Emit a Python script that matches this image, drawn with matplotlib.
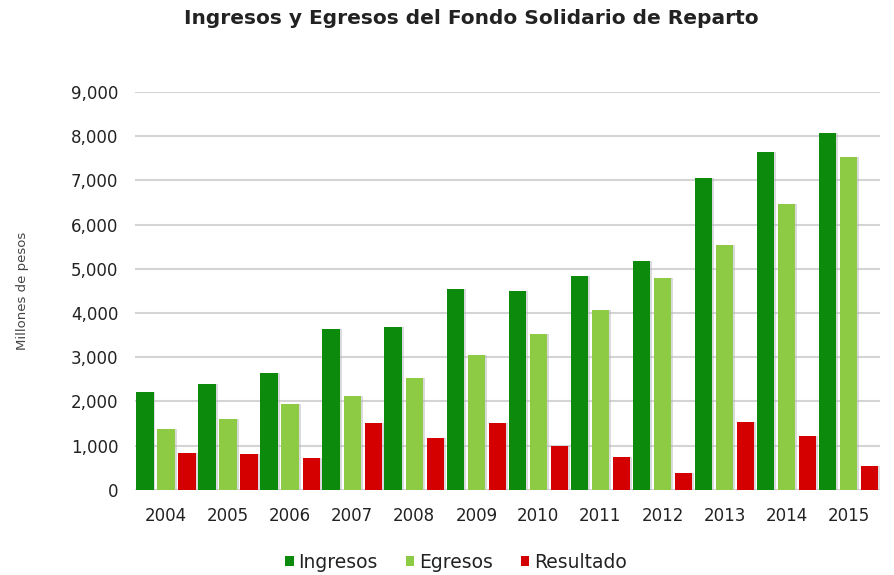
import numpy as np
import matplotlib
matplotlib.use("Agg")
import matplotlib.pyplot as plt
from matplotlib.ticker import FuncFormatter

# data (millones de pesos)
years = ["2004", "2005", "2006", "2007", "2008", "2009",
         "2010", "2011", "2012", "2013", "2014", "2015"]
ingresos = [2220, 2390, 2650, 3630, 3690, 4540, 4500, 4840, 5180, 7050, 7650, 8080]
egresos = [1380, 1610, 1940, 2130, 2540, 3050, 3530, 4070, 4800, 5540, 6460, 7540]
resultado = [830, 810, 720, 1510, 1180, 1510, 1000, 740, 380, 1540, 1220, 530]

series_names = ["Ingresos", "Egresos", "Resultado"]
colors = ["#0b8a0b", "#8dcb45", "#d40000"]

plt.rcParams['font.family'] = ['DejaVu Sans']

fig = plt.figure(figsize=(8.94, 5.75), dpi=100)
ax = fig.add_axes([0.151, 0.148, 0.833, 0.692])

x = np.arange(len(years))
step = 0.34
width = 0.28
bars = []
for k, (vals, name, col) in enumerate(zip([ingresos, egresos, resultado], series_names, colors)):
    # faint shadow behind each bar
    ax.bar(x + (k - 1) * step + 0.03, vals, width, color="#b8b8c0", alpha=0.5,
           zorder=2, linewidth=0)
    b = ax.bar(x + (k - 1) * step, vals, width, color=col, label=name,
               zorder=3, linewidth=0)
    bars.append(b)

ax.set_xlim(-0.5, 11.5)
ax.set_ylim(0, 9000)
ax.set_yticks(np.arange(0, 9001, 1000))
ax.yaxis.set_major_formatter(FuncFormatter(lambda v, p: "{:,.0f}".format(v)))
ax.set_xticks(x)
ax.set_xticklabels(years)
ax.grid(axis="y", color="#d4d4d4", linewidth=1.5, zorder=0)
ax.set_axisbelow(True)
for s in ax.spines.values():
    s.set_visible(False)
ax.tick_params(axis="both", length=0, labelsize=12, colors="#222222")
ax.tick_params(axis="y", pad=12)
ax.tick_params(axis="x", pad=12)

ax.set_ylabel("Millones de pesos", fontsize=9.5, color="#444444", labelpad=30)

fig.text(0.527, 0.967, "Ingresos y Egresos del Fondo Solidario de Reparto",
         ha="center", va="center", fontsize=14.5, fontweight="bold", color="#222222")

fig.legend(bars, series_names,
           loc="center", bbox_to_anchor=(0.51, 0.022), ncol=3, frameon=False,
           fontsize=13.5, handlelength=0.45, handleheight=0.45,
           handletextpad=0.25, columnspacing=1.5, labelcolor="#222222")

fig.savefig("out.png", dpi=100)
